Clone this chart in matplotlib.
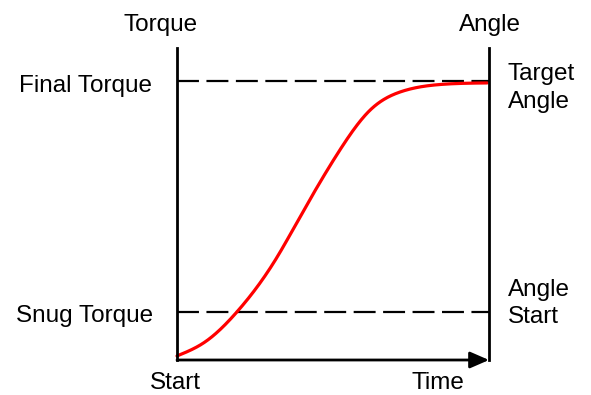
import numpy as np
import matplotlib
matplotlib.use("Agg")
import matplotlib.pyplot as plt

plt.rcParams["font.family"] = ["Liberation Sans", "DejaVu Sans"]
plt.rcParams["lines.scale_dashes"] = False

# Tightening curve: time and torque, both in percent of full scale
time_pct = [0, 9.0, 19.2, 32.1, 38.5, 52.2, 61.9, 71.5, 84.3, 99.4]
torque_pct = [1.3, 5.8, 15.4, 33.0, 44.2, 67.3, 80.1, 85.9, 88.3, 88.8]

final_torque = 89.4
snug_torque = 15.4

W, H = 591, 395
fig = plt.figure(figsize=(W / 100, H / 100), dpi=100)


def px(x, y):
    return x / W, 1 - y / H


def natural_spline(xk, yk, xs):
    """Evaluate a natural cubic spline through (xk, yk) at xs."""
    xk = np.asarray(xk, float)
    yk = np.asarray(yk, float)
    n = len(xk)
    h = np.diff(xk)
    A = np.zeros((n, n))
    rhs = np.zeros(n)
    A[0, 0] = A[-1, -1] = 1.0
    for i in range(1, n - 1):
        A[i, i - 1] = h[i - 1]
        A[i, i] = 2 * (h[i - 1] + h[i])
        A[i, i + 1] = h[i]
        rhs[i] = 6 * ((yk[i + 1] - yk[i]) / h[i] - (yk[i] - yk[i - 1]) / h[i - 1])
    M = np.linalg.solve(A, rhs)
    idx = np.clip(np.searchsorted(xk, xs) - 1, 0, n - 2)
    x0, x1 = xk[idx], xk[idx + 1]
    hh = x1 - x0
    a = (x1 - xs) / hh
    b = (xs - x0) / hh
    return (a * yk[idx] + b * yk[idx + 1]
            + ((a ** 3 - a) * M[idx] + (b ** 3 - b) * M[idx + 1]) * hh ** 2 / 6)


left, right, bottom, top = 177, 489, 360, 48
ax = fig.add_axes([left / W, 1 - bottom / H, (right - left) / W, (bottom - top) / H])
ax.set_xlim(0, 100)
ax.set_ylim(0, 100)
ax.set_xticks([])
ax.set_yticks([])
for side in ("top", "bottom"):
    ax.spines[side].set_visible(False)
for side in ("left", "right"):
    ax.spines[side].set_linewidth(2.0)
    ax.spines[side].set_color("black")

# Time axis with arrow head
ax.annotate("", xy=(1, 0), xytext=(0, 0), xycoords="axes fraction",
            textcoords="axes fraction",
            arrowprops=dict(arrowstyle="-|>,head_length=11.5,head_width=5",
                            mutation_scale=1, lw=2.0, color="black",
                            shrinkA=0, shrinkB=0),
            annotation_clip=False)

# Reference torque levels
dash = (0, (15.8, 5.4))
ax.plot([0, 100], [final_torque, final_torque], color="black", lw=1.6, linestyle=dash)
ax.plot([0, 100], [snug_torque, snug_torque], color="black", lw=1.6, linestyle=dash)

# Torque curve
xs = np.linspace(time_pct[0], time_pct[-1], 400)
ax.plot(xs, natural_spline(time_pct, torque_pct, xs), color="#ff0000", lw=2.3,
        solid_capstyle="round", clip_on=False)

fs = 17.5
fig.text(*px(161, 31), "Torque", ha="center", va="baseline", fontsize=fs)
fig.text(*px(490, 31), "Angle", ha="center", va="baseline", fontsize=fs)
fig.text(*px(152, 92), "Final Torque", ha="right", va="baseline", fontsize=fs)
fig.text(*px(153, 322), "Snug Torque", ha="right", va="baseline", fontsize=fs)
fig.text(*px(508, 80), "Target", ha="left", va="baseline", fontsize=fs)
fig.text(*px(508, 108), "Angle", ha="left", va="baseline", fontsize=fs)
fig.text(*px(508, 296), "Angle", ha="left", va="baseline", fontsize=fs)
fig.text(*px(508, 323), "Start", ha="left", va="baseline", fontsize=fs)
fig.text(*px(175, 389), "Start", ha="center", va="baseline", fontsize=fs)
fig.text(*px(438, 389), "Time", ha="center", va="baseline", fontsize=fs)

fig.savefig("out.png", dpi=100)
